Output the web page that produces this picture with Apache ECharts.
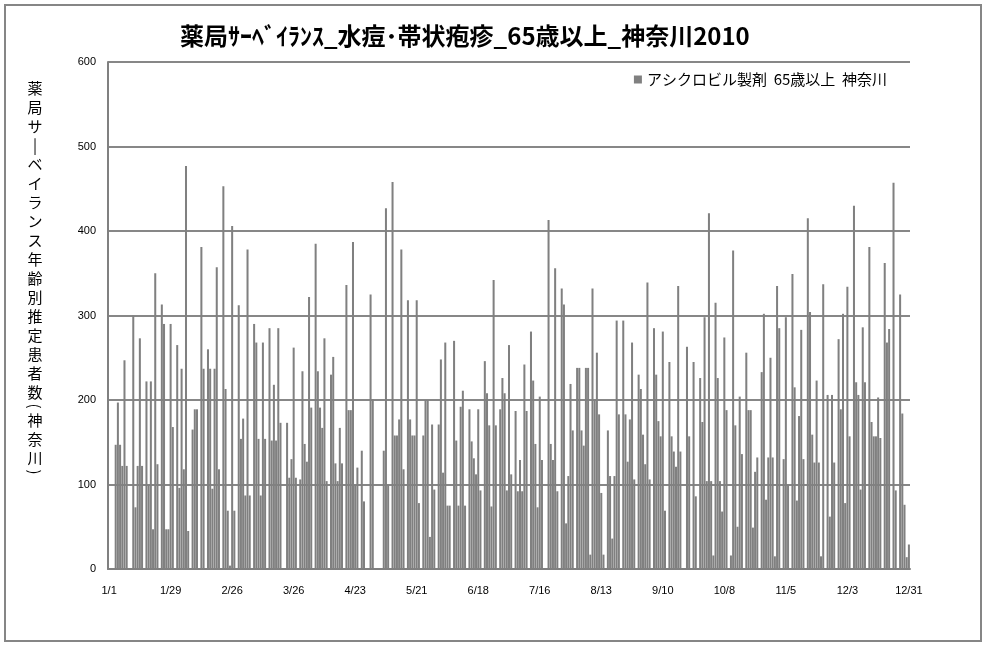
<!DOCTYPE html>
<html><head><meta charset="utf-8">
<script src="https://cdn.jsdelivr.net/npm/echarts@6/dist/echarts.min.js"></script>
<style>html,body{margin:0;padding:0;background:#fff}#c{width:986px;height:647px}</style>
</head><body><div id="c"></div>
<script>
var titleText = '薬局ｻｰﾍﾞｲﾗﾝｽ_水痘･帯状疱疹_65歳以上_神奈川2010';
var yAxisTitle = '薬局サーベイランス年齢別推定患者数（神奈川）';
var seriesName = 'アシクロビル製剤  65歳以上  神奈川';
var yTicks = [0, 100, 200, 300, 400, 500, 600];
var startDate = '2010-01-01';
var labelEvery = 28;

var jan = [0,0,0,147,197,147,122,247,122,0,0,300,73,122,273,122,0,222,100,222,47,350,124,0,313,290,47,47,290,168,0];
var feb = [265,96,237,118,477,45,0,165,189,189,0,381,237,0,260,237,95,237,357,118,0,453,213,69,4,406,69,0];
var mar = [312,154,178,87,378,87,0,290,268,154,87,268,154,0,285,152,218,152,285,173,0,0,173,108,130,262,108,0,106,234,148];
var apr = [127,322,191,0,385,234,191,167,273,104,0,230,251,125,104,167,125,0,336,188,188,387,100,120,0,140,80,0,0,325];
var may = [201,0,0,0,0,140,427,100,0,458,158,158,177,378,118,0,318,177,158,158,318,78,0,158,200,200,38,171,94,0,171];
var jun = [248,114,268,75,75,0,270,152,75,192,211,75,0,189,151,131,112,189,93,0,246,208,170,74,342,170,0,189,226,208];
var jul = [93,265,112,0,187,92,129,92,242,187,0,281,223,148,73,204,129,0,0,413,148,129,356,92,0,332,313,54,110,219,164];
var aug = [0,238,238,164,146,238,238,17,332,201,256,183,90,17,0,164,110,36,110,294,183,0,294,183,127,177,268,106,0,230,213];
var sep = [159,124,339,106,0,285,230,175,157,281,69,0,245,157,139,121,335,139,0,0,263,157,0,245,86,0,226,174,298,104];
var oct = [421,104,16,315,226,104,68,274,188,0,16,377,170,50,204,136,0,256,188,188,49,115,132,0,233,302,82,132,250,132,15];
var nov = [335,285,0,130,298,100,0,349,215,81,181,283,130,0,415,304,159,126,223,126,15,337,0,206,62,206,126,0,272,189];
var dec = [302,78,334,157,0,430,221,206,94,286,221,0,381,174,157,157,203,155,0,362,268,284,0,457,93,0,325,184,76,14,29];

var values = [].concat(jan, feb, mar, apr, may, jun, jul, aug, sep, oct, nov, dec);
var categories = [];
var d0 = new Date(startDate + 'T00:00:00Z');
for (var i = 0; i < values.length; i++) {
  var d = new Date(d0.getTime() + i * 86400000);
  categories.push((d.getUTCMonth() + 1) + '/' + d.getUTCDate());
}

var chart = echarts.init(document.getElementById('c'));
var grey = '#808080';
var jp = '"Noto Sans CJK JP", "Noto Sans", sans-serif';

var vChars = yAxisTitle.split('');
var vGraphics = [];
var yPos = 88;
for (var k = 0; k < vChars.length; k++) {
  var ch = vChars[k];
  var isParen = (ch === '（' || ch === '）');
  var shown = ch === '（' ? '(' : ch === '）' ? ')' : ch === 'ー' ? '|' : ch;
  if (isParen) yPos -= 5;
  vGraphics.push({
    type: 'text', x: 35, y: yPos,
    rotation: isParen ? -Math.PI / 2 : 0,
    style: { text: shown, font: '15px ' + jp, fill: '#000', textAlign: 'center', textVerticalAlign: 'middle' }
  });
  yPos += isParen ? 14 : 19;
}

chart.setOption({
  animation: false,
  textStyle: { fontFamily: jp },
  graphic: [
    { type: 'rect', shape: { x: 5, y: 5, width: 976, height: 636 }, style: { fill: 'none', stroke: '#868686', lineWidth: 2 } },
    { type: 'text', left: 180, top: 24, style: { text: titleText, font: 'bold 24px ' + jp, fill: '#000' } }
  ].concat(vGraphics),
  legend: {
    show: true, right: 94, top: 67, itemWidth: 8, itemHeight: 8, icon: 'rect', itemGap: 4,
    textStyle: { fontSize: 15, color: '#000', fontFamily: jp }
  },
  grid: { left: 108, right: 76, top: 62, bottom: 78, containLabel: false },
  xAxis: {
    type: 'category', data: categories, boundaryGap: true,
    axisLine: { lineStyle: { color: grey, width: 2 } },
    axisTick: { show: false },
    axisLabel: { interval: labelEvery - 1, color: '#000', fontSize: 11, margin: 16, fontFamily: 'Liberation Sans, sans-serif' },
    splitLine: { show: false }
  },
  yAxis: {
    type: 'value', min: yTicks[0], max: yTicks[yTicks.length - 1], interval: 100,
    axisLine: { show: true, lineStyle: { color: grey, width: 2 } },
    axisTick: { show: false },
    axisLabel: { color: '#000', fontSize: 11, margin: 12, fontFamily: 'Liberation Sans, sans-serif' },
    splitLine: { lineStyle: { color: '#878787', width: 2 } }
  },
  series: [{
    name: seriesName, type: 'bar', data: values,
    itemStyle: { color: grey }, barCategoryGap: '8%'
  }]
});
</script></body></html>
